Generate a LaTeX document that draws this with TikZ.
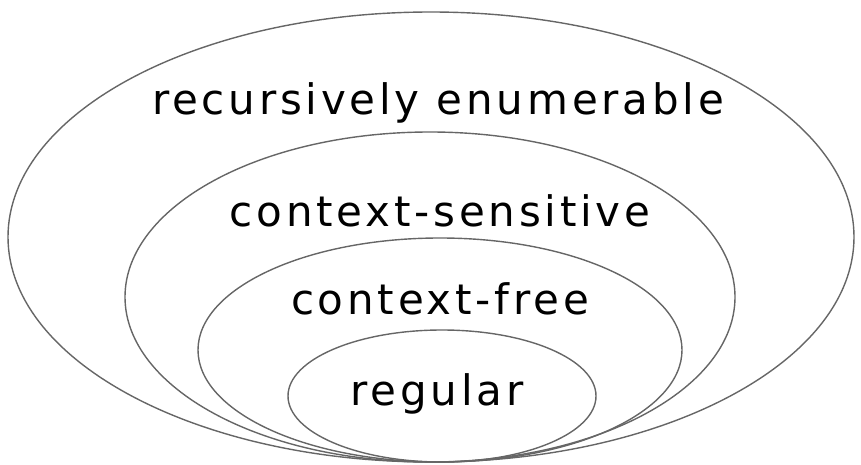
\documentclass[tikz,border=0pt]{standalone}
\usepackage{fontspec}
\setmainfont{DejaVu Sans}[LetterSpace=9]
\usetikzlibrary{positioning}
\tikzset{
  langset/.style={draw=black!60,line width=1.4pt},
  langlabel/.style={font=\fontsize{42}{46}\selectfont,inner sep=0pt,anchor=base}
}
\begin{document}
\begin{tikzpicture}[x=1pt,y=-1pt]
  \useasboundingbox (0,0) rectangle (861,465);
  % nested classes, all touching at the bottom
  \draw[langset] (431,237) ellipse [x radius=423,y radius=225];
  \draw[langset] (430,297) ellipse [x radius=305,y radius=165];
  \draw[langset] (440,350) ellipse [x radius=242,y radius=112];
  \draw[langset] (442,396) ellipse [x radius=154,y radius=66];
  \node[langlabel] (re)  at (438,115) {recursively enumerable};
  \node[langlabel] (cs)  at (440,226) {context-sensitive};
  \node[langlabel] (cf)  at (440,314) {context-free};
  \node[langlabel] (reg) at (437,405) {regular};
\end{tikzpicture}
\end{document}
